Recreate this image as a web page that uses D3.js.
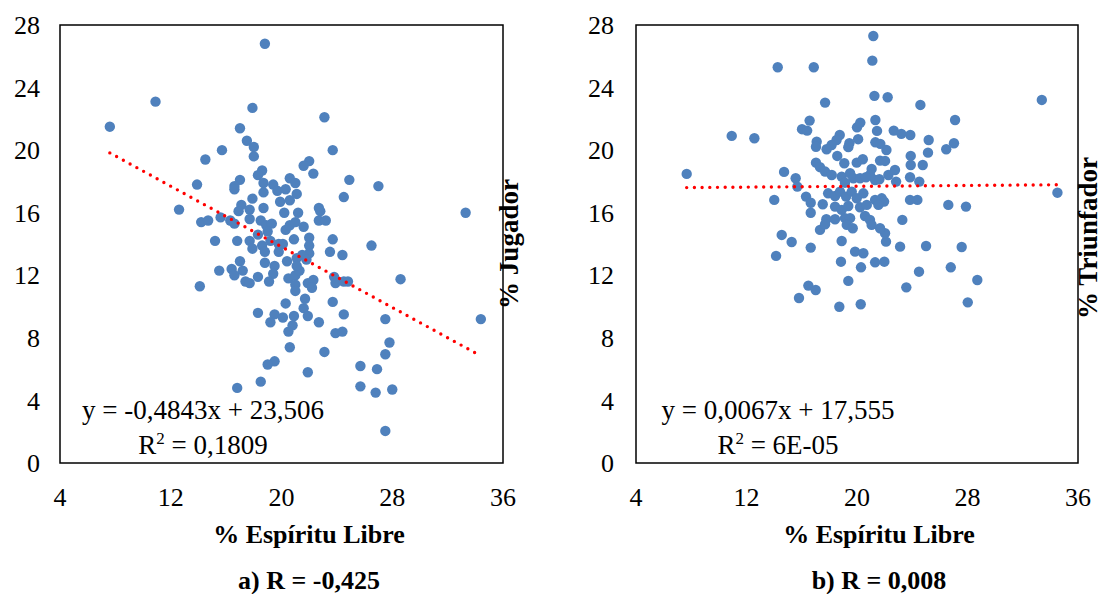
<!DOCTYPE html>
<html>
<head>
<meta charset="utf-8">
<script src="https://cdn.jsdelivr.net/npm/d3@7"></script>
<style>
  html, body { margin: 0; padding: 0; background: #fff; }
  svg { display: block; }
</style>
</head>
<body>
<svg id="chart" width="1107" height="594"></svg>
<script>
// ---- data ----
const xTicks = [4, 12, 20, 28, 36];
const yTicks = [0, 4, 8, 12, 16, 20, 24, 28];

// panel a: % Espíritu Libre vs % Jugador
const espirituA = [10.9,17.9,23.1,17.0,17.5,18.0,18.0,15.7,14.5,23.7,22.0,21.6,22.3,18.6,18.3,17.0,16.6,16.6,13.9,24.9,27.0,24.5,18.7,19.4,19.7,20.3,20.6,21.0,21.1,18.7,17.9,19.9,20.6,17.1,16.9,17.7,18.7,20.2,21.2,22.7,22.8,12.6,14.2,14.7,15.6,16.3,16.6,17.7,18.5,18.9,19.3,20.3,20.6,21.0,21.6,22.7,23.2,19.0,15.2,16.8,17.7,18.3,17.9,18.6,18.8,19.2,19.8,20.1,20.9,22.0,22.0,22.0,23.7,26.5,19.8,20.4,21.1,21.5,21.8,23.5,24.4,18.8,17.0,16.4,16.6,17.2,15.5,19.5,19.4,19.1,18.3,17.4,17.7,14.1,20.5,21.0,21.3,21.1,21.0,21.0,21.9,22.3,22.2,23.8,23.9,24.5,24.8,23.7,24.5,23.9,24.4,21.7,21.6,21.9,22.7,20.3,18.3,19.5,20.1,19.2,20.9,20.8,20.5,20.6,23.1,19.5,19.0,21.9,18.5,16.8,25.7,25.7,26.9,26.8,7.6,18.8,28.6,34.4,27.5,27.8,27.5,28.0,27.5,33.3];
const jugador   = [23.1,22.7,22.1,21.4,20.6,20.2,19.6,20.0,19.4,20.0,19.3,19.0,18.5,18.7,18.4,18.1,17.7,17.5,17.8,18.1,17.7,17.0,17.9,17.8,17.4,17.5,18.2,17.9,17.2,17.3,16.9,16.7,16.8,16.5,16.1,16.2,16.3,16.0,16.0,16.3,16.1,16.2,15.4,15.5,15.7,15.5,15.3,15.6,15.5,15.2,15.3,14.9,15.2,15.4,15.1,15.5,15.5,14.8,14.2,14.2,14.2,14.6,13.7,13.9,13.5,14.2,14.0,14.0,14.3,14.4,13.9,13.4,14.3,13.9,13.5,12.9,13.1,13.3,13.0,13.5,13.3,12.8,12.9,12.4,12.0,12.3,12.3,12.6,12.1,11.6,11.9,11.6,11.5,11.3,11.8,12.0,12.3,12.6,11.4,11.0,11.5,11.7,11.2,11.9,11.5,11.6,11.6,10.3,9.5,8.3,8.4,10.5,9.9,9.4,9.0,10.2,9.6,9.5,9.3,9.0,9.4,8.8,8.4,7.4,7.1,6.5,6.3,5.8,5.2,4.8,6.2,4.9,6.0,4.5,21.5,26.8,11.75,9.2,9.2,7.7,6.95,4.7,2.05,16.0];

// panel b: % Espíritu Libre vs % Triunfador
const espirituB = [7.67,10.93,12.57,14.26,16.87,14.01,14.72,15.56,15.68,14.55,15.27,14.14,16.31,16.65,16.65,17.52,17.32,17.78,18.41,17.69,16.48,17.01,15.80,18.72,20.27,19.37,18.89,18.84,16.65,19.86,20.46,20.29,21.31,21.98,22.10,22.03,21.67,23.12,23.28,25.0,27.58,24.49,26.79,28.71,23.57,28.02,26.61,27.89,23.84,24.37,34.51,33.38,21.18,21.11,21.26,22.22,17.69,24.59,27.10,16.57,16.02,16.39,18.75,20.08,20.00,20.24,21.33,21.45,22.66,23.21,23.86,25.19,25.14,26.46,27.02,18.52,18.16,17.80,17.08,17.03,19.45,19.37,21.33,21.69,22.13,18.57,17.03,17.32,19.08,19.98,20.42,21.67,22.03,23.89,23.89,24.76,21.06,20.94,22.27,22.75,17.69,18.17,18.89,19.50,19.74,19.13,20.22,20.65,21.31,21.62,22.83,23.84,24.51,17.91,18.41,18.77,19.21,19.62,19.98,20.46,18.41,18.89,19.37,20.22,20.71,21.31,21.79,21.96,21.55,19.13,19.50,19.26,19.69,20.58,20.94,21.06];
const triunfador = [18.48,20.91,20.76,25.30,25.30,16.82,18.61,18.20,17.67,14.58,14.13,13.24,17.03,16.64,16.00,16.54,14.90,15.58,15.58,15.26,11.34,11.06,10.55,9.99,10.15,11.64,14.19,12.87,13.77,13.51,13.41,12.51,12.83,12.87,14.15,14.69,15.01,13.83,15.54,13.87,13.81,12.23,12.51,11.70,11.23,10.27,16.50,16.39,16.82,16.82,17.28,23.21,27.30,25.72,23.47,23.38,23.04,22.89,21.93,21.89,21.34,21.25,20.97,20.70,21.46,21.76,21.93,21.23,21.25,21.04,20.97,20.65,19.84,20.06,20.44,20.65,20.33,20.06,20.54,20.22,20.44,20.19,20.50,20.40,20.01,19.63,19.20,18.91,19.16,19.20,19.42,19.33,19.31,19.63,19.05,19.05,18.80,18.41,18.41,18.73,18.63,18.41,18.31,18.52,18.20,17.92,18.20,18.27,18.09,18.14,17.99,18.27,17.99,17.24,17.07,17.35,17.03,17.35,16.92,17.24,16.39,16.18,16.43,16.35,16.50,16.82,16.92,16.71,16.50,15.65,15.65,15.22,15.01,15.79,15.54,15.22];

const panels = [
  { xs: espirituA, ys: jugador, slope: -0.4843, intercept: 23.506,
    eq: "y = -0,4843x + 23,506", r2: "0,1809", yTitle: "% Jugador",
    caption: "a) R = -0,425", x0: 60, x1: 503, tickX: 40, eqX: 203, yTitleX: 509, yTitleY: 244, titleX: 309 },
  { xs: espirituB, ys: triunfador, slope: 0.0067, intercept: 17.555,
    eq: "y = 0,0067x + 17,555", r2: "6E-05", yTitle: "% Triunfador",
    caption: "b) R = 0,008", x0: 636, x1: 1078, tickX: 614, eqX: 778, yTitleX: 1088, yTitleY: 238, titleX: 879 }
];

const svg = d3.select("#chart");
svg.append("rect").attr("width", 1107).attr("height", 594).attr("fill", "#fff");
const serif = "'Liberation Serif', 'Times New Roman', serif";
const yTop = 25, yBot = 463;

panels.forEach(p => {
  const x = d3.scaleLinear().domain([4, 36]).range([p.x0, p.x1]);
  const y = d3.scaleLinear().domain([0, 28]).range([yBot, yTop]);
  const g = svg.append("g");

  // y tick labels
  g.selectAll(".yt").data(yTicks).join("text")
    .attr("x", p.tickX).attr("y", d => y(d)).attr("dy", "0.35em")
    .attr("text-anchor", "end").attr("font-family", serif).attr("font-size", 26)
    .attr("fill", "#000").text(d => d);

  // x tick labels
  g.selectAll(".xt").data(xTicks).join("text")
    .attr("x", d => x(d)).attr("y", 506)
    .attr("text-anchor", "middle").attr("font-family", serif).attr("font-size", 26)
    .attr("fill", "#000").text(d => d);

  // points
  const pts = p.xs.map((v, i) => [v, p.ys[i]]);
  g.selectAll("circle").data(pts).join("circle")
    .attr("cx", d => x(d[0])).attr("cy", d => y(d[1])).attr("r", 5.2)
    .attr("fill", "#4F81BD");

  // trend line
  const xmin = d3.min(p.xs), xmax = d3.max(p.xs);
  g.append("line")
    .attr("x1", x(xmin)).attr("y1", y(p.slope * xmin + p.intercept))
    .attr("x2", x(xmax)).attr("y2", y(p.slope * xmax + p.intercept))
    .attr("stroke", "#FF0000").attr("stroke-width", 3.4)
    .attr("stroke-linecap", "round").attr("stroke-dasharray", "0,7.7");

  // frame
  g.append("rect").attr("x", p.x0).attr("y", yTop)
    .attr("width", p.x1 - p.x0).attr("height", yBot - yTop)
    .attr("fill", "none").attr("stroke", "#000").attr("stroke-width", 1.5);

  // equation
  g.append("text").attr("x", p.eqX).attr("y", 419).attr("text-anchor", "middle")
    .attr("font-family", serif).attr("font-size", 27).attr("fill", "#000").text(p.eq);
  const r2 = g.append("text").attr("x", p.eqX).attr("y", 454).attr("text-anchor", "middle")
    .attr("font-family", serif).attr("font-size", 27).attr("fill", "#000");
  r2.append("tspan").text("R");
  r2.append("tspan").attr("dy", -10).attr("font-size", 17).text("2");
  r2.append("tspan").attr("dy", 10).text(" = " + p.r2);

  // y title
  g.append("text")
    .attr("transform", `translate(${p.yTitleX},${p.yTitleY}) rotate(-90)`)
    .attr("text-anchor", "middle").attr("dy", "0.35em")
    .attr("font-family", serif).attr("font-size", 27).attr("font-weight", "bold")
    .attr("fill", "#000").text(p.yTitle);

  // x title and caption
  g.append("text").attr("x", p.titleX).attr("y", 543).attr("text-anchor", "middle")
    .attr("font-family", serif).attr("font-size", 26).attr("font-weight", "bold")
    .attr("fill", "#000").text("% Espíritu Libre");
  g.append("text").attr("x", p.titleX).attr("y", 589).attr("text-anchor", "middle")
    .attr("font-family", serif).attr("font-size", 26).attr("font-weight", "bold")
    .attr("fill", "#000").text(p.caption);
});
</script>
</body>
</html>
